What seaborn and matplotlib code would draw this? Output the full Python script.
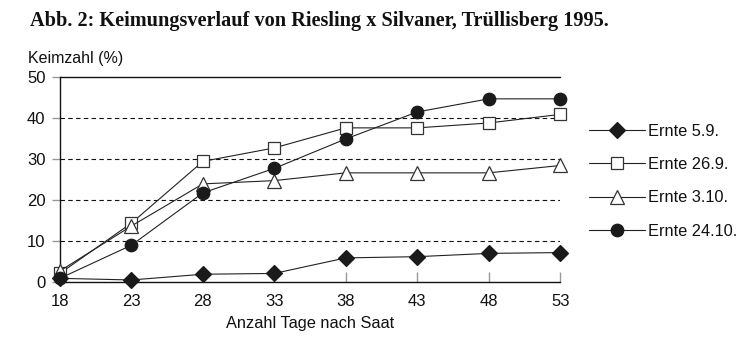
import matplotlib
matplotlib.use("Agg")
import matplotlib.pyplot as plt
import seaborn as sns
import pandas as pd

# Days after sowing and germination rates (%) per harvest date
days = [18, 23, 28, 33, 38, 43, 48, 53]
ernte_5_9 = [0.8, 0.4, 1.8, 2.0, 5.8, 6.1, 6.9, 7.1]
ernte_26_9 = [2.0, 14.3, 29.4, 32.7, 37.6, 37.6, 38.8, 40.9]
ernte_3_10 = [2.6, 13.6, 23.9, 24.7, 26.6, 26.6, 26.6, 28.4]
ernte_24_10 = [0.8, 8.9, 21.7, 27.7, 34.9, 41.5, 44.7, 44.7]
labels = ["Ernte 5.9.", "Ernte 26.9.", "Ernte 3.10.", "Ernte 24.10."]

sns.set_theme(style="white")
plt.rcParams["font.family"] = ["Liberation Sans", "DejaVu Sans"]

fig = plt.figure(figsize=(7.49, 3.43), dpi=100)
ax = fig.add_axes([0.080, 0.179, 0.668, 0.596])

styles = [
    dict(marker="D", markersize=8.5, markerfacecolor="#1a1a1a", markeredgecolor="#1a1a1a"),
    dict(marker="s", markersize=8.5, markerfacecolor="white", markeredgecolor="#333333"),
    dict(marker="^", markersize=9.5, markerfacecolor="white", markeredgecolor="#333333"),
    dict(marker="o", markersize=9.0, markerfacecolor="#1a1a1a", markeredgecolor="#1a1a1a"),
]
series = [ernte_5_9, ernte_26_9, ernte_3_10, ernte_24_10]

for vals, lab, st in zip(series, labels, styles):
    df = pd.DataFrame({"Tage": days, "Keimzahl": vals})
    sns.lineplot(data=df, x="Tage", y="Keimzahl", ax=ax, color="#222222",
                 linewidth=0.8, markeredgewidth=0.9, label=lab, zorder=3,
                 clip_on=False, **st)

ax.set_xlim(18, 53)
ax.set_ylim(0, 50)
ax.set_xticks(days)
ax.set_yticks([0, 10, 20, 30, 40, 50])

for y in [10, 20, 30, 40]:
    ax.axhline(y, color="#111111", linestyle=(0, (4, 3)), linewidth=0.8, zorder=1)
ax.axhline(50, color="#111111", linewidth=1.0, zorder=1, clip_on=False)

for side in ["right", "top"]:
    ax.spines[side].set_visible(False)
for side in ["left", "bottom"]:
    ax.spines[side].set_color("#111111")
    ax.spines[side].set_linewidth(1.0)

ax.tick_params(axis="x", direction="in", length=7, width=1.0, color="#999999",
               labelsize=12, pad=9, bottom=True, labelcolor="#111111")
ax.tick_params(axis="y", direction="out", length=5.8, width=1.0, color="#999999",
               labelsize=12, pad=4.5, left=True, labelcolor="#111111")

ax.set_xlabel("Anzahl Tage nach Saat", fontsize=11.8, color="#111111", labelpad=5)
ax.set_ylabel("")

leg = ax.legend(loc="upper left", bbox_to_anchor=(1.045, 0.805), frameon=False,
                fontsize=11.8, handlelength=3.4, labelspacing=1.12, handletextpad=0.2,
                borderaxespad=0)
for t in leg.get_texts():
    t.set_color("#111111")

fig.text(0.040, 0.924, "Abb. 2: Keimungsverlauf von Riesling x Silvaner, Trüllisberg 1995.",
         fontsize=14.6, fontweight="bold", family=["Liberation Serif", "DejaVu Serif"],
         va="baseline", ha="left", color="#111111")
fig.text(0.037, 0.816, "Keimzahl (%)", fontsize=11.5, va="baseline", ha="left", color="#111111")

fig.savefig("out.png", dpi=100)
